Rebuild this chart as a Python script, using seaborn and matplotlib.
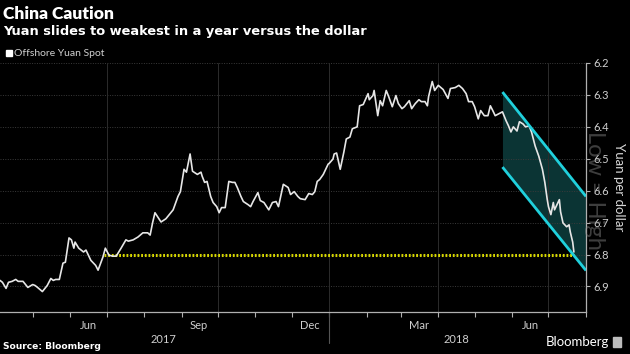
import matplotlib
matplotlib.use("Agg")
import matplotlib.pyplot as plt
import matplotlib.dates as mdates
import matplotlib.transforms as mtransforms
import numpy as np
import pandas as pd
import seaborn as sns

# ---- data ----
dates = [
    "2017-04-04", "2017-04-06", "2017-04-09", "2017-04-11", "2017-04-14", "2017-04-17", "2017-04-19",
    "2017-04-23", "2017-04-27", "2017-05-01", "2017-05-03", "2017-05-05", "2017-05-09", "2017-05-13",
    "2017-05-16", "2017-05-18", "2017-05-20", "2017-05-23", "2017-05-26", "2017-05-28", "2017-05-31",
    "2017-06-02", "2017-06-04", "2017-06-05", "2017-06-08", "2017-06-12", "2017-06-14", "2017-06-18",
    "2017-06-22", "2017-06-24", "2017-06-28", "2017-06-30", "2017-07-03", "2017-07-06", "2017-07-09",
    "2017-07-13", "2017-07-17", "2017-07-19", "2017-07-23", "2017-07-27", "2017-07-31", "2017-08-04",
    "2017-08-06", "2017-08-08", "2017-08-10", "2017-08-15", "2017-08-19", "2017-08-23", "2017-08-25",
    "2017-08-29", "2017-08-31", "2017-09-03", "2017-09-05", "2017-09-08", "2017-09-10", "2017-09-14",
    "2017-09-17", "2017-09-18", "2017-09-20", "2017-09-22", "2017-09-25", "2017-09-27", "2017-09-30",
    "2017-10-02", "2017-10-04", "2017-10-07", "2017-10-10", "2017-10-13", "2017-10-15", "2017-10-17",
    "2017-10-20", "2017-10-22", "2017-10-26", "2017-10-28", "2017-10-30", "2017-11-03", "2017-11-05",
    "2017-11-08", "2017-11-12", "2017-11-15", "2017-11-18", "2017-11-20", "2017-11-24", "2017-11-28",
    "2017-11-30", "2017-12-03", "2017-12-06", "2017-12-08", "2017-12-12", "2017-12-15", "2017-12-18",
    "2017-12-20", "2017-12-22", "2017-12-24", "2017-12-27", "2017-12-31", "2018-01-01", "2018-01-04",
    "2018-01-05", "2018-01-07", "2018-01-10", "2018-01-13", "2018-01-15", "2018-01-18", "2018-01-20",
    "2018-01-24", "2018-01-26", "2018-01-29", "2018-02-02", "2018-02-03", "2018-02-06", "2018-02-07",
    "2018-02-10", "2018-02-12", "2018-02-14", "2018-02-17", "2018-02-19", "2018-02-22", "2018-02-25",
    "2018-02-27", "2018-03-02", "2018-03-04", "2018-03-08", "2018-03-10", "2018-03-13", "2018-03-16",
    "2018-03-18", "2018-03-21", "2018-03-23", "2018-03-24", "2018-03-27", "2018-03-29", "2018-04-01",
    "2018-04-05", "2018-04-09", "2018-04-11", "2018-04-15", "2018-04-18", "2018-04-21", "2018-04-24",
    "2018-04-26", "2018-04-29", "2018-05-01", "2018-05-04", "2018-05-06", "2018-05-09", "2018-05-12",
    "2018-05-14", "2018-05-16", "2018-05-18", "2018-05-21", "2018-05-24", "2018-05-27", "2018-05-29",
    "2018-05-31", "2018-06-02", "2018-06-05", "2018-06-07", "2018-06-10", "2018-06-12", "2018-06-15",
    "2018-06-17", "2018-06-20", "2018-06-23", "2018-06-26", "2018-06-28", "2018-06-30", "2018-07-01",
    "2018-07-03", "2018-07-05", "2018-07-06", "2018-07-10", "2018-07-11", "2018-07-13", "2018-07-16",
    "2018-07-18", "2018-07-19", "2018-07-21", "2018-07-22",
]
yuan = [
    6.881, 6.887, 6.906, 6.887, 6.884, 6.878, 6.884,
    6.884, 6.903, 6.894, 6.897, 6.903, 6.916, 6.897,
    6.875, 6.881, 6.878, 6.878, 6.827, 6.824, 6.748,
    6.754, 6.780, 6.761, 6.780, 6.792, 6.786, 6.818,
    6.834, 6.849, 6.808, 6.780, 6.802, 6.805, 6.805,
    6.780, 6.754, 6.758, 6.754, 6.745, 6.732, 6.732,
    6.739, 6.701, 6.669, 6.698, 6.688, 6.669, 6.660,
    6.618, 6.603, 6.533, 6.542, 6.485, 6.539, 6.549,
    6.542, 6.555, 6.574, 6.571, 6.618, 6.637, 6.650,
    6.669, 6.653, 6.653, 6.571, 6.574, 6.574, 6.590,
    6.618, 6.634, 6.644, 6.650, 6.634, 6.606, 6.631,
    6.637, 6.660, 6.637, 6.634, 6.650, 6.580, 6.590,
    6.612, 6.603, 6.618, 6.625, 6.628, 6.609, 6.612,
    6.603, 6.571, 6.565, 6.549, 6.517, 6.514, 6.501,
    6.485, 6.482, 6.533, 6.479, 6.438, 6.432, 6.406,
    6.400, 6.334, 6.330, 6.296, 6.315, 6.302, 6.286,
    6.365, 6.318, 6.334, 6.286, 6.305, 6.337, 6.302,
    6.327, 6.343, 6.337, 6.318, 6.343, 6.327, 6.315,
    6.321, 6.321, 6.334, 6.305, 6.258, 6.286, 6.270,
    6.283, 6.311, 6.280, 6.277, 6.270, 6.280, 6.296,
    6.321, 6.321, 6.337, 6.375, 6.349, 6.365, 6.365,
    6.334, 6.349, 6.365, 6.359, 6.353, 6.381, 6.397,
    6.416, 6.400, 6.413, 6.384, 6.391, 6.400, 6.397,
    6.416, 6.460, 6.492, 6.533, 6.574, 6.628, 6.650,
    6.675, 6.637, 6.660, 6.628, 6.666, 6.701, 6.713,
    6.707, 6.729, 6.761, 6.792,
]

# channel (upper / lower trend lines)
channel_dates = ["2018-05-24", "2018-08-01"]
channel_upper = [6.291, 6.618]
channel_lower = [6.526, 6.850]

# one-year-low reference
ref_dates = ["2017-06-29", "2018-07-22"]
ref_level = 6.80

yticks = [6.2, 6.3, 6.4, 6.5, 6.6, 6.7, 6.8, 6.9]
month_labels = ["Jun", "Sep", "Dec", "Mar", "Jun"]
month_label_dates = ["2017-06-16", "2017-09-15", "2017-12-16", "2018-03-16", "2018-06-16"]
quarter_starts = ["2017-07-01", "2017-10-01", "2018-01-01", "2018-04-01", "2018-07-01"]
years = ["2017", "2018"]
year_label_dates = ["2017-08-17", "2018-04-16"]

df = pd.DataFrame({"date": pd.to_datetime(dates), "yuan": yuan})

# ---- style ----
sns.set_theme(style="dark")
plt.rcParams["font.family"] = ["Lato", "DejaVu Sans"]
plt.rcParams["figure.facecolor"] = "black"
plt.rcParams["axes.facecolor"] = "black"

fig = plt.figure(figsize=(6.3, 3.54), dpi=100)
ax = fig.add_axes([0, 1 - 312 / 354, 586 / 630, (312 - 63) / 354])
ax.set_facecolor("black")

grid_col = "#3a3a3a"
for y in yticks:
    ax.axhline(y, color=grid_col, lw=0.7, ls=(0, (1, 1.5)), zorder=1, clip_on=False)
for q in quarter_starts:
    ax.axvline(pd.Timestamp(q), color="#2c2c2c", lw=0.7, zorder=1)

cd = pd.to_datetime(channel_dates)
ax.fill_between(cd, channel_upper, channel_lower, color="#0b3434", lw=0, zorder=0.5)

rd = pd.to_datetime(ref_dates)
ax.plot(rd, [ref_level, ref_level], color="#d6d600", lw=2.2, ls=(0, (0.6, 0.6)), zorder=2)

sns.lineplot(data=df, x="date", y="yuan", ax=ax, color="#e6e6e6", lw=1.2, zorder=3)

ax.plot(cd, channel_upper, color="#20d0dc", lw=2, zorder=4, solid_capstyle="butt")
ax.plot(cd, channel_lower, color="#20d0dc", lw=2, zorder=4, solid_capstyle="butt")

ax.set_xlim(pd.Timestamp("2017-04-04"), pd.Timestamp("2018-08-01"))
ax.set_ylim(6.98, 6.2)

# ---- axes ----
for s in ["top", "left"]:
    ax.spines[s].set_visible(False)
for s in ["bottom", "right"]:
    ax.spines[s].set_visible(True)
    ax.spines[s].set_color("#b0b0b0")
    ax.spines[s].set_linewidth(0.9)

ax.yaxis.tick_right()
ax.yaxis.set_label_position("right")
ax.set_yticks(yticks)
ax.set_yticklabels([f"{v:.1f}" for v in yticks])
ax.tick_params(axis="y", which="both", right=True, left=False, length=3, width=0.8,
               color="#b0b0b0", labelcolor="#cfcfcf", labelsize=8, pad=2)
ax.set_ylabel("Yuan per dollar", rotation=270, color="#d8d8d8", fontsize=9.5, labelpad=12)

ax.xaxis.set_minor_locator(mdates.MonthLocator())
ax.set_xticks(pd.to_datetime(month_label_dates))
ax.set_xticklabels(month_labels)
ax.tick_params(axis="x", which="major", length=0, labelcolor="#cfcfcf", labelsize=8, pad=6)
ax.tick_params(axis="x", which="minor", bottom=True, length=3.5, width=0.8, color="#b0b0b0")
ax.set_xlabel("")
ax.grid(False)

trans = mtransforms.blended_transform_factory(ax.transData, ax.transAxes)
for yr, yd in zip(years, year_label_dates):
    ax.text(pd.Timestamp(yd), -0.112, yr, transform=trans, ha="center", va="center",
            color="#cfcfcf", fontsize=8)
sep = mdates.date2num(pd.Timestamp("2018-01-01"))
ax.plot([sep, sep], [0, -31 / 249], transform=trans, color="#555555", lw=0.8, clip_on=False)

# watermark
fig.text(594 / 630, 1 - 190 / 354, "Low = High", rotation=270, ha="center", va="center",
         color="#8a8a8a", alpha=0.45, fontsize=17)

# ---- titles / notes ----
fig.text(3 / 630, 1 - 19 / 354, "China Caution", color="white", fontsize=12.5,
         fontweight="heavy", va="baseline")
fig.text(3 / 630, 1 - 35 / 354, "Yuan slides to weakest in a year versus the dollar",
         color="white", fontsize=9.4, fontweight="bold", va="baseline", family="DejaVu Sans")
fig.patches.append(plt.Rectangle((6 / 630, 1 - 56 / 354), 6 / 630, 6 / 354,
                                 transform=fig.transFigure, color="white"))
fig.text(14 / 630, 1 - 56 / 354, "Offshore Yuan Spot", color="#d0d0d0", fontsize=7.5,
         va="baseline")
fig.text(3 / 630, 1 - 349 / 354, "Source: Bloomberg", color="white", fontsize=6.6,
         fontweight="bold", va="baseline", family="DejaVu Sans")
fig.text(609 / 630, 1 - 346 / 354, "Bloomberg", color="white", fontsize=9.5,
         ha="right", va="baseline")
fig.patches.append(plt.Rectangle((613 / 630, 1 - 347 / 354), 8 / 630, 10 / 354,
                                 transform=fig.transFigure, color="#bdbdbd"))

fig.savefig("out.png", dpi=100, facecolor="black")
